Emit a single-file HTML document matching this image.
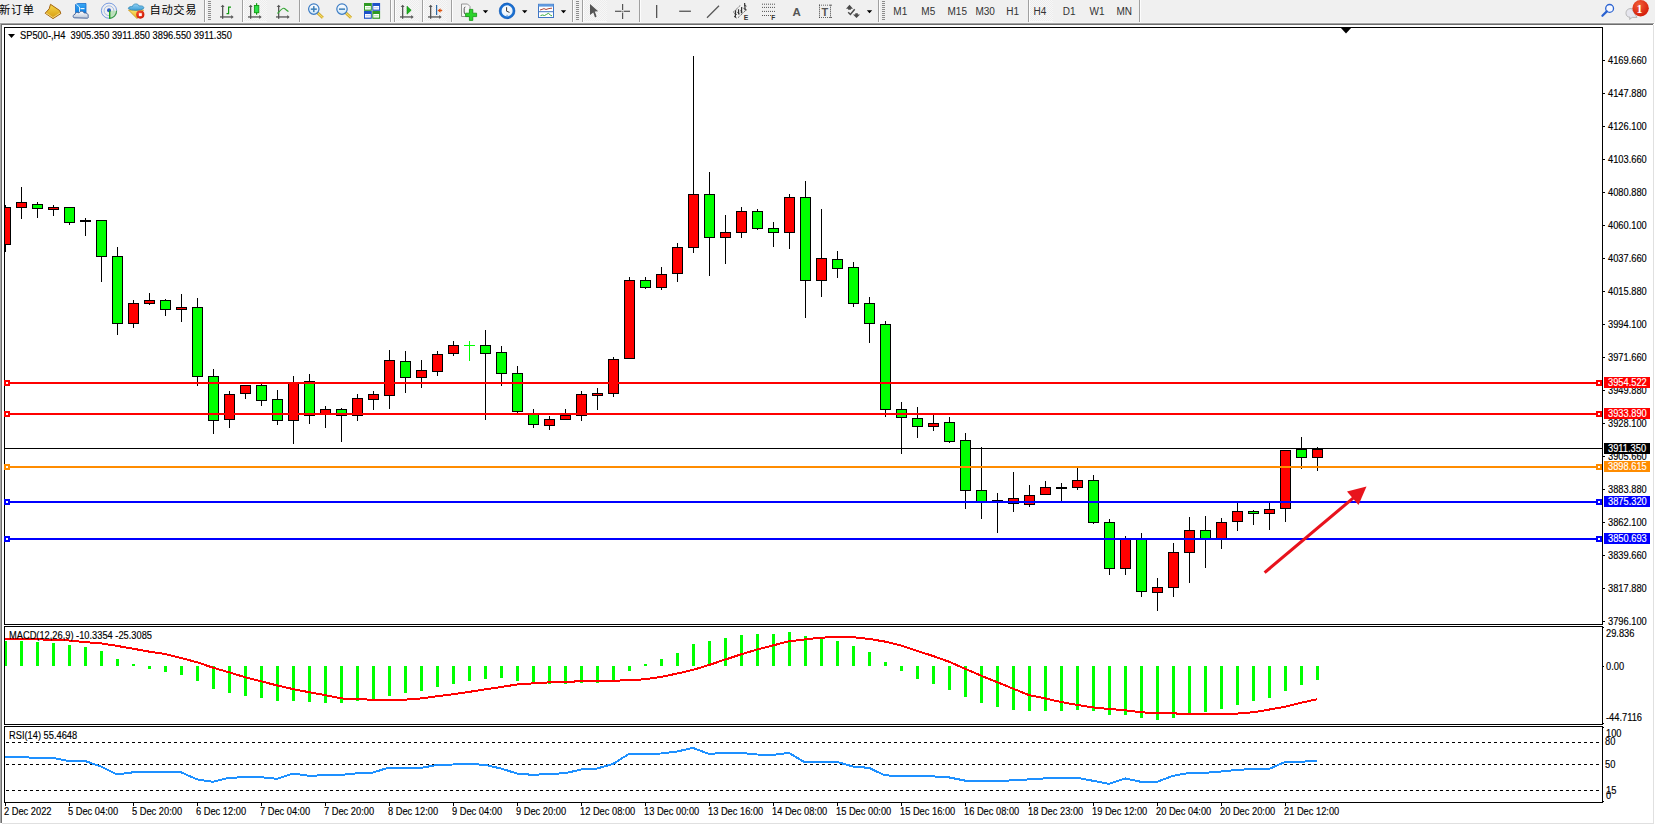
<!DOCTYPE html>
<html><head><meta charset="utf-8"><title>MT4</title>
<style>
html,body{margin:0;padding:0;width:1655px;height:825px;overflow:hidden;background:#fff}
svg{display:block;position:absolute;left:0;top:0}
text{font-family:"Liberation Sans","Noto Sans CJK SC",sans-serif;font-size:9.9px}
</style></head><body>
<svg width="1655" height="825" viewBox="0 0 1655 825" shape-rendering="crispEdges">
<rect x="0" y="0" width="1655" height="825" fill="#fff"/>
<rect x="0" y="0" width="1655" height="22" fill="#f0f0f0"/>
<rect x="0" y="22" width="1655" height="1" fill="#f6f6f6"/>
<rect x="0" y="23" width="1654" height="1" fill="#a3a3a3"/>
<rect x="0" y="24" width="1653" height="1" fill="#6d6d6d"/>
<rect x="0" y="23" width="1" height="800" fill="#a8a8a8"/>
<rect x="1" y="24" width="1" height="799" fill="#6e6e6e"/>
<rect x="1653" y="25" width="1" height="799" fill="#e0e0e0"/>
<rect x="2" y="823" width="1652" height="1" fill="#e0e0e0"/>
<rect x="4" y="27" width="1599" height="1" fill="#000"/>
<rect x="4" y="624" width="1599" height="1" fill="#000"/>
<rect x="4" y="27" width="1" height="598" fill="#000"/>
<rect x="1602" y="27" width="1" height="598" fill="#000"/>
<rect x="4" y="626" width="1599" height="1" fill="#000"/>
<rect x="4" y="724" width="1599" height="1" fill="#000"/>
<rect x="4" y="626" width="1" height="99" fill="#000"/>
<rect x="1602" y="626" width="1" height="99" fill="#000"/>
<rect x="4" y="726" width="1599" height="1" fill="#000"/>
<rect x="4" y="802" width="1599" height="1" fill="#000"/>
<rect x="4" y="726" width="1" height="77" fill="#000"/>
<rect x="1602" y="726" width="1" height="77" fill="#000"/>
<polygon points="1340.5,27.5 1351.5,27.5 1346,33.5" fill="#000" shape-rendering="auto"/>
<polygon points="8,34 15,34 11.5,38" fill="#000" shape-rendering="auto"/>
<rect x="1603" y="60" width="2" height="1" fill="#000"/>
<text x="1710.64" y="63.37" transform="scale(0.94 1.01)" fill="#000" stroke="#000" stroke-width="0.15">4169.660</text>
<rect x="1603" y="93" width="2" height="1" fill="#000"/>
<text x="1710.64" y="96.04" transform="scale(0.94 1.01)" fill="#000" stroke="#000" stroke-width="0.15">4147.880</text>
<rect x="1603" y="126" width="2" height="1" fill="#000"/>
<text x="1710.64" y="128.71" transform="scale(0.94 1.01)" fill="#000" stroke="#000" stroke-width="0.15">4126.100</text>
<rect x="1603" y="159" width="2" height="1" fill="#000"/>
<text x="1710.64" y="161.39" transform="scale(0.94 1.01)" fill="#000" stroke="#000" stroke-width="0.15">4103.660</text>
<rect x="1603" y="192" width="2" height="1" fill="#000"/>
<text x="1710.64" y="194.06" transform="scale(0.94 1.01)" fill="#000" stroke="#000" stroke-width="0.15">4080.880</text>
<rect x="1603" y="225" width="2" height="1" fill="#000"/>
<text x="1710.64" y="226.73" transform="scale(0.94 1.01)" fill="#000" stroke="#000" stroke-width="0.15">4060.100</text>
<rect x="1603" y="258" width="2" height="1" fill="#000"/>
<text x="1710.64" y="259.41" transform="scale(0.94 1.01)" fill="#000" stroke="#000" stroke-width="0.15">4037.660</text>
<rect x="1603" y="291" width="2" height="1" fill="#000"/>
<text x="1710.64" y="292.08" transform="scale(0.94 1.01)" fill="#000" stroke="#000" stroke-width="0.15">4015.880</text>
<rect x="1603" y="324" width="2" height="1" fill="#000"/>
<text x="1710.64" y="324.75" transform="scale(0.94 1.01)" fill="#000" stroke="#000" stroke-width="0.15">3994.100</text>
<rect x="1603" y="357" width="2" height="1" fill="#000"/>
<text x="1710.64" y="357.43" transform="scale(0.94 1.01)" fill="#000" stroke="#000" stroke-width="0.15">3971.660</text>
<rect x="1603" y="390" width="2" height="1" fill="#000"/>
<text x="1710.64" y="390.10" transform="scale(0.94 1.01)" fill="#000" stroke="#000" stroke-width="0.15">3949.880</text>
<rect x="1603" y="423" width="2" height="1" fill="#000"/>
<text x="1710.64" y="422.77" transform="scale(0.94 1.01)" fill="#000" stroke="#000" stroke-width="0.15">3928.100</text>
<rect x="1603" y="456" width="2" height="1" fill="#000"/>
<text x="1710.64" y="455.45" transform="scale(0.94 1.01)" fill="#000" stroke="#000" stroke-width="0.15">3905.660</text>
<rect x="1603" y="489" width="2" height="1" fill="#000"/>
<text x="1710.64" y="488.12" transform="scale(0.94 1.01)" fill="#000" stroke="#000" stroke-width="0.15">3883.880</text>
<rect x="1603" y="522" width="2" height="1" fill="#000"/>
<text x="1710.64" y="520.79" transform="scale(0.94 1.01)" fill="#000" stroke="#000" stroke-width="0.15">3862.100</text>
<rect x="1603" y="555" width="2" height="1" fill="#000"/>
<text x="1710.64" y="553.47" transform="scale(0.94 1.01)" fill="#000" stroke="#000" stroke-width="0.15">3839.660</text>
<rect x="1603" y="588" width="2" height="1" fill="#000"/>
<text x="1710.64" y="586.14" transform="scale(0.94 1.01)" fill="#000" stroke="#000" stroke-width="0.15">3817.880</text>
<rect x="1603" y="621" width="2" height="1" fill="#000"/>
<text x="1710.64" y="618.81" transform="scale(0.94 1.01)" fill="#000" stroke="#000" stroke-width="0.15">3796.100</text>
<rect x="5" y="448" width="1597" height="1" fill="#000"/>
<defs><clipPath id="cm"><rect x="5" y="28" width="1597" height="596"/></clipPath></defs><g clip-path="url(#cm)">
<rect x="5" y="205" width="1" height="47" fill="#000"/>
<rect x="0" y="207" width="11" height="38" fill="#000"/>
<rect x="1" y="208" width="9" height="36" fill="#ff0000"/>
<rect x="21" y="187" width="1" height="32" fill="#000"/>
<rect x="16" y="202" width="11" height="6" fill="#000"/>
<rect x="17" y="203" width="9" height="4" fill="#ff0000"/>
<rect x="37" y="202" width="1" height="16" fill="#000"/>
<rect x="32" y="204" width="11" height="5" fill="#000"/>
<rect x="33" y="205" width="9" height="3" fill="#00ff00"/>
<rect x="53" y="205" width="1" height="11" fill="#000"/>
<rect x="48" y="207" width="11" height="3" fill="#000"/>
<rect x="49" y="208" width="9" height="1" fill="#ff0000"/>
<rect x="69" y="207" width="1" height="18" fill="#000"/>
<rect x="64" y="207" width="11" height="16" fill="#000"/>
<rect x="65" y="208" width="9" height="14" fill="#00ff00"/>
<rect x="85" y="218" width="1" height="18" fill="#000"/>
<rect x="80" y="220" width="11" height="2" fill="#000"/>
<rect x="101" y="220" width="1" height="62" fill="#000"/>
<rect x="96" y="220" width="11" height="37" fill="#000"/>
<rect x="97" y="221" width="9" height="35" fill="#00ff00"/>
<rect x="117" y="247" width="1" height="88" fill="#000"/>
<rect x="112" y="256" width="11" height="68" fill="#000"/>
<rect x="113" y="257" width="9" height="66" fill="#00ff00"/>
<rect x="133" y="300" width="1" height="28" fill="#000"/>
<rect x="128" y="303" width="11" height="21" fill="#000"/>
<rect x="129" y="304" width="9" height="19" fill="#ff0000"/>
<rect x="149" y="293" width="1" height="12" fill="#000"/>
<rect x="144" y="300" width="11" height="4" fill="#000"/>
<rect x="145" y="301" width="9" height="2" fill="#ff0000"/>
<rect x="165" y="299" width="1" height="17" fill="#000"/>
<rect x="160" y="300" width="11" height="10" fill="#000"/>
<rect x="161" y="301" width="9" height="8" fill="#00ff00"/>
<rect x="181" y="294" width="1" height="28" fill="#000"/>
<rect x="176" y="307" width="11" height="3" fill="#000"/>
<rect x="177" y="308" width="9" height="1" fill="#ff0000"/>
<rect x="197" y="298" width="1" height="88" fill="#000"/>
<rect x="192" y="307" width="11" height="70" fill="#000"/>
<rect x="193" y="308" width="9" height="68" fill="#00ff00"/>
<rect x="213" y="369" width="1" height="65" fill="#000"/>
<rect x="208" y="376" width="11" height="45" fill="#000"/>
<rect x="209" y="377" width="9" height="43" fill="#00ff00"/>
<rect x="229" y="391" width="1" height="37" fill="#000"/>
<rect x="224" y="394" width="11" height="26" fill="#000"/>
<rect x="225" y="395" width="9" height="24" fill="#ff0000"/>
<rect x="245" y="385" width="1" height="14" fill="#000"/>
<rect x="240" y="385" width="11" height="9" fill="#000"/>
<rect x="241" y="386" width="9" height="7" fill="#ff0000"/>
<rect x="261" y="384" width="1" height="22" fill="#000"/>
<rect x="256" y="385" width="11" height="16" fill="#000"/>
<rect x="257" y="386" width="9" height="14" fill="#00ff00"/>
<rect x="277" y="390" width="1" height="35" fill="#000"/>
<rect x="272" y="399" width="11" height="22" fill="#000"/>
<rect x="273" y="400" width="9" height="20" fill="#00ff00"/>
<rect x="293" y="376" width="1" height="68" fill="#000"/>
<rect x="288" y="382" width="11" height="39" fill="#000"/>
<rect x="289" y="383" width="9" height="37" fill="#ff0000"/>
<rect x="309" y="374" width="1" height="50" fill="#000"/>
<rect x="304" y="381" width="11" height="35" fill="#000"/>
<rect x="305" y="382" width="9" height="33" fill="#00ff00"/>
<rect x="325" y="406" width="1" height="22" fill="#000"/>
<rect x="320" y="409" width="11" height="6" fill="#000"/>
<rect x="321" y="410" width="9" height="4" fill="#ff0000"/>
<rect x="341" y="408" width="1" height="34" fill="#000"/>
<rect x="336" y="409" width="11" height="7" fill="#000"/>
<rect x="337" y="410" width="9" height="5" fill="#00ff00"/>
<rect x="357" y="394" width="1" height="27" fill="#000"/>
<rect x="352" y="398" width="11" height="18" fill="#000"/>
<rect x="353" y="399" width="9" height="16" fill="#ff0000"/>
<rect x="373" y="391" width="1" height="19" fill="#000"/>
<rect x="368" y="394" width="11" height="6" fill="#000"/>
<rect x="369" y="395" width="9" height="4" fill="#ff0000"/>
<rect x="389" y="350" width="1" height="59" fill="#000"/>
<rect x="384" y="360" width="11" height="36" fill="#000"/>
<rect x="385" y="361" width="9" height="34" fill="#ff0000"/>
<rect x="405" y="351" width="1" height="42" fill="#000"/>
<rect x="400" y="361" width="11" height="17" fill="#000"/>
<rect x="401" y="362" width="9" height="15" fill="#00ff00"/>
<rect x="421" y="360" width="1" height="28" fill="#000"/>
<rect x="416" y="370" width="11" height="8" fill="#000"/>
<rect x="417" y="371" width="9" height="6" fill="#ff0000"/>
<rect x="437" y="351" width="1" height="25" fill="#000"/>
<rect x="432" y="354" width="11" height="18" fill="#000"/>
<rect x="433" y="355" width="9" height="16" fill="#ff0000"/>
<rect x="453" y="341" width="1" height="15" fill="#000"/>
<rect x="448" y="345" width="11" height="9" fill="#000"/>
<rect x="449" y="346" width="9" height="7" fill="#ff0000"/>
<rect x="469" y="341" width="1" height="20" fill="#00ff00"/>
<rect x="464" y="345" width="11" height="1" fill="#00ff00"/>
<rect x="485" y="330" width="1" height="90" fill="#000"/>
<rect x="480" y="345" width="11" height="9" fill="#000"/>
<rect x="481" y="346" width="9" height="7" fill="#00ff00"/>
<rect x="501" y="346" width="1" height="40" fill="#000"/>
<rect x="496" y="352" width="11" height="22" fill="#000"/>
<rect x="497" y="353" width="9" height="20" fill="#00ff00"/>
<rect x="517" y="366" width="1" height="47" fill="#000"/>
<rect x="512" y="373" width="11" height="39" fill="#000"/>
<rect x="513" y="374" width="9" height="37" fill="#00ff00"/>
<rect x="533" y="409" width="1" height="19" fill="#000"/>
<rect x="528" y="414" width="11" height="11" fill="#000"/>
<rect x="529" y="415" width="9" height="9" fill="#00ff00"/>
<rect x="549" y="416" width="1" height="14" fill="#000"/>
<rect x="544" y="419" width="11" height="7" fill="#000"/>
<rect x="545" y="420" width="9" height="5" fill="#ff0000"/>
<rect x="565" y="409" width="1" height="11" fill="#000"/>
<rect x="560" y="415" width="11" height="5" fill="#000"/>
<rect x="561" y="416" width="9" height="3" fill="#ff0000"/>
<rect x="581" y="391" width="1" height="30" fill="#000"/>
<rect x="576" y="394" width="11" height="22" fill="#000"/>
<rect x="577" y="395" width="9" height="20" fill="#ff0000"/>
<rect x="597" y="388" width="1" height="22" fill="#000"/>
<rect x="592" y="393" width="11" height="3" fill="#000"/>
<rect x="593" y="394" width="9" height="1" fill="#ff0000"/>
<rect x="613" y="357" width="1" height="40" fill="#000"/>
<rect x="608" y="359" width="11" height="35" fill="#000"/>
<rect x="609" y="360" width="9" height="33" fill="#ff0000"/>
<rect x="629" y="277" width="1" height="82" fill="#000"/>
<rect x="624" y="280" width="11" height="79" fill="#000"/>
<rect x="625" y="281" width="9" height="77" fill="#ff0000"/>
<rect x="645" y="277" width="1" height="12" fill="#000"/>
<rect x="640" y="280" width="11" height="8" fill="#000"/>
<rect x="641" y="281" width="9" height="6" fill="#00ff00"/>
<rect x="661" y="267" width="1" height="23" fill="#000"/>
<rect x="656" y="274" width="11" height="14" fill="#000"/>
<rect x="657" y="275" width="9" height="12" fill="#ff0000"/>
<rect x="677" y="243" width="1" height="39" fill="#000"/>
<rect x="672" y="247" width="11" height="27" fill="#000"/>
<rect x="673" y="248" width="9" height="25" fill="#ff0000"/>
<rect x="693" y="56" width="1" height="197" fill="#000"/>
<rect x="688" y="194" width="11" height="54" fill="#000"/>
<rect x="689" y="195" width="9" height="52" fill="#ff0000"/>
<rect x="709" y="172" width="1" height="104" fill="#000"/>
<rect x="704" y="194" width="11" height="44" fill="#000"/>
<rect x="705" y="195" width="9" height="42" fill="#00ff00"/>
<rect x="725" y="215" width="1" height="49" fill="#000"/>
<rect x="720" y="232" width="11" height="6" fill="#000"/>
<rect x="721" y="233" width="9" height="4" fill="#ff0000"/>
<rect x="741" y="207" width="1" height="31" fill="#000"/>
<rect x="736" y="211" width="11" height="22" fill="#000"/>
<rect x="737" y="212" width="9" height="20" fill="#ff0000"/>
<rect x="757" y="209" width="1" height="21" fill="#000"/>
<rect x="752" y="211" width="11" height="18" fill="#000"/>
<rect x="753" y="212" width="9" height="16" fill="#00ff00"/>
<rect x="773" y="222" width="1" height="25" fill="#000"/>
<rect x="768" y="228" width="11" height="5" fill="#000"/>
<rect x="769" y="229" width="9" height="3" fill="#00ff00"/>
<rect x="789" y="194" width="1" height="55" fill="#000"/>
<rect x="784" y="197" width="11" height="36" fill="#000"/>
<rect x="785" y="198" width="9" height="34" fill="#ff0000"/>
<rect x="805" y="181" width="1" height="137" fill="#000"/>
<rect x="800" y="197" width="11" height="84" fill="#000"/>
<rect x="801" y="198" width="9" height="82" fill="#00ff00"/>
<rect x="821" y="209" width="1" height="88" fill="#000"/>
<rect x="816" y="258" width="11" height="23" fill="#000"/>
<rect x="817" y="259" width="9" height="21" fill="#ff0000"/>
<rect x="837" y="251" width="1" height="27" fill="#000"/>
<rect x="832" y="259" width="11" height="10" fill="#000"/>
<rect x="833" y="260" width="9" height="8" fill="#00ff00"/>
<rect x="853" y="262" width="1" height="45" fill="#000"/>
<rect x="848" y="267" width="11" height="37" fill="#000"/>
<rect x="849" y="268" width="9" height="35" fill="#00ff00"/>
<rect x="869" y="297" width="1" height="46" fill="#000"/>
<rect x="864" y="303" width="11" height="21" fill="#000"/>
<rect x="865" y="304" width="9" height="19" fill="#00ff00"/>
<rect x="885" y="321" width="1" height="96" fill="#000"/>
<rect x="880" y="324" width="11" height="86" fill="#000"/>
<rect x="881" y="325" width="9" height="84" fill="#00ff00"/>
<rect x="901" y="402" width="1" height="52" fill="#000"/>
<rect x="896" y="409" width="11" height="9" fill="#000"/>
<rect x="897" y="410" width="9" height="7" fill="#00ff00"/>
<rect x="917" y="407" width="1" height="31" fill="#000"/>
<rect x="912" y="418" width="11" height="9" fill="#000"/>
<rect x="913" y="419" width="9" height="7" fill="#00ff00"/>
<rect x="933" y="415" width="1" height="16" fill="#000"/>
<rect x="928" y="423" width="11" height="4" fill="#000"/>
<rect x="929" y="424" width="9" height="2" fill="#ff0000"/>
<rect x="949" y="417" width="1" height="26" fill="#000"/>
<rect x="944" y="422" width="11" height="20" fill="#000"/>
<rect x="945" y="423" width="9" height="18" fill="#00ff00"/>
<rect x="965" y="433" width="1" height="76" fill="#000"/>
<rect x="960" y="440" width="11" height="51" fill="#000"/>
<rect x="961" y="441" width="9" height="49" fill="#00ff00"/>
<rect x="981" y="447" width="1" height="72" fill="#000"/>
<rect x="976" y="490" width="11" height="12" fill="#000"/>
<rect x="977" y="491" width="9" height="10" fill="#00ff00"/>
<rect x="997" y="493" width="1" height="40" fill="#000"/>
<rect x="992" y="500" width="11" height="2" fill="#000"/>
<rect x="1013" y="472" width="1" height="40" fill="#000"/>
<rect x="1008" y="498" width="11" height="6" fill="#000"/>
<rect x="1009" y="499" width="9" height="4" fill="#ff0000"/>
<rect x="1029" y="485" width="1" height="22" fill="#000"/>
<rect x="1024" y="495" width="11" height="10" fill="#000"/>
<rect x="1025" y="496" width="9" height="8" fill="#ff0000"/>
<rect x="1045" y="481" width="1" height="14" fill="#000"/>
<rect x="1040" y="487" width="11" height="8" fill="#000"/>
<rect x="1041" y="488" width="9" height="6" fill="#ff0000"/>
<rect x="1061" y="483" width="1" height="18" fill="#000"/>
<rect x="1056" y="487" width="11" height="2" fill="#000"/>
<rect x="1077" y="468" width="1" height="22" fill="#000"/>
<rect x="1072" y="480" width="11" height="8" fill="#000"/>
<rect x="1073" y="481" width="9" height="6" fill="#ff0000"/>
<rect x="1093" y="475" width="1" height="49" fill="#000"/>
<rect x="1088" y="480" width="11" height="43" fill="#000"/>
<rect x="1089" y="481" width="9" height="41" fill="#00ff00"/>
<rect x="1109" y="519" width="1" height="56" fill="#000"/>
<rect x="1104" y="522" width="11" height="47" fill="#000"/>
<rect x="1105" y="523" width="9" height="45" fill="#00ff00"/>
<rect x="1125" y="536" width="1" height="39" fill="#000"/>
<rect x="1120" y="539" width="11" height="30" fill="#000"/>
<rect x="1121" y="540" width="9" height="28" fill="#ff0000"/>
<rect x="1141" y="533" width="1" height="64" fill="#000"/>
<rect x="1136" y="539" width="11" height="53" fill="#000"/>
<rect x="1137" y="540" width="9" height="51" fill="#00ff00"/>
<rect x="1157" y="578" width="1" height="33" fill="#000"/>
<rect x="1152" y="587" width="11" height="6" fill="#000"/>
<rect x="1153" y="588" width="9" height="4" fill="#ff0000"/>
<rect x="1173" y="543" width="1" height="54" fill="#000"/>
<rect x="1168" y="552" width="11" height="36" fill="#000"/>
<rect x="1169" y="553" width="9" height="34" fill="#ff0000"/>
<rect x="1189" y="517" width="1" height="66" fill="#000"/>
<rect x="1184" y="530" width="11" height="23" fill="#000"/>
<rect x="1185" y="531" width="9" height="21" fill="#ff0000"/>
<rect x="1205" y="516" width="1" height="52" fill="#000"/>
<rect x="1200" y="530" width="11" height="9" fill="#000"/>
<rect x="1201" y="531" width="9" height="7" fill="#00ff00"/>
<rect x="1221" y="518" width="1" height="31" fill="#000"/>
<rect x="1216" y="522" width="11" height="17" fill="#000"/>
<rect x="1217" y="523" width="9" height="15" fill="#ff0000"/>
<rect x="1237" y="503" width="1" height="28" fill="#000"/>
<rect x="1232" y="511" width="11" height="11" fill="#000"/>
<rect x="1233" y="512" width="9" height="9" fill="#ff0000"/>
<rect x="1253" y="510" width="1" height="15" fill="#000"/>
<rect x="1248" y="511" width="11" height="3" fill="#000"/>
<rect x="1249" y="512" width="9" height="1" fill="#00ff00"/>
<rect x="1269" y="503" width="1" height="27" fill="#000"/>
<rect x="1264" y="509" width="11" height="5" fill="#000"/>
<rect x="1265" y="510" width="9" height="3" fill="#ff0000"/>
<rect x="1285" y="450" width="1" height="72" fill="#000"/>
<rect x="1280" y="450" width="11" height="59" fill="#000"/>
<rect x="1281" y="451" width="9" height="57" fill="#ff0000"/>
<rect x="1301" y="437" width="1" height="32" fill="#000"/>
<rect x="1296" y="449" width="11" height="9" fill="#000"/>
<rect x="1297" y="450" width="9" height="7" fill="#00ff00"/>
<rect x="1317" y="447" width="1" height="24" fill="#000"/>
<rect x="1312" y="449" width="11" height="9" fill="#000"/>
<rect x="1313" y="450" width="9" height="7" fill="#ff0000"/>
</g>
<rect x="5" y="382" width="1597" height="2" fill="#ff0000"/>
<rect x="4" y="380" width="6" height="6" fill="#ff0000"/>
<rect x="6" y="382" width="2" height="2" fill="#fff"/>
<rect x="1596" y="380" width="6" height="6" fill="#ff0000"/>
<rect x="1598" y="382" width="2" height="2" fill="#fff"/>
<rect x="1604" y="377" width="46" height="11" fill="#ff0000"/>
<text x="1710.64" y="382.18" transform="scale(0.94 1.01)" fill="#fff" stroke="#fff" stroke-width="0.15">3954.522</text>
<rect x="5" y="413" width="1597" height="2" fill="#ff0000"/>
<rect x="4" y="411" width="6" height="6" fill="#ff0000"/>
<rect x="6" y="413" width="2" height="2" fill="#fff"/>
<rect x="1596" y="411" width="6" height="6" fill="#ff0000"/>
<rect x="1598" y="413" width="2" height="2" fill="#fff"/>
<rect x="1604" y="408" width="46" height="11" fill="#ff0000"/>
<text x="1710.64" y="412.87" transform="scale(0.94 1.01)" fill="#fff" stroke="#fff" stroke-width="0.15">3933.890</text>
<rect x="5" y="466" width="1597" height="2" fill="#ff8c00"/>
<rect x="4" y="464" width="6" height="6" fill="#ff8c00"/>
<rect x="6" y="466" width="2" height="2" fill="#fff"/>
<rect x="1596" y="464" width="6" height="6" fill="#ff8c00"/>
<rect x="1598" y="466" width="2" height="2" fill="#fff"/>
<rect x="1604" y="461" width="46" height="11" fill="#ff8c00"/>
<text x="1710.64" y="465.35" transform="scale(0.94 1.01)" fill="#fff" stroke="#fff" stroke-width="0.15">3898.615</text>
<rect x="5" y="501" width="1597" height="2" fill="#0000ff"/>
<rect x="4" y="499" width="6" height="6" fill="#0000ff"/>
<rect x="6" y="501" width="2" height="2" fill="#fff"/>
<rect x="1596" y="499" width="6" height="6" fill="#0000ff"/>
<rect x="1598" y="501" width="2" height="2" fill="#fff"/>
<rect x="1604" y="496" width="46" height="11" fill="#0000ff"/>
<text x="1710.64" y="500.00" transform="scale(0.94 1.01)" fill="#fff" stroke="#fff" stroke-width="0.15">3875.320</text>
<rect x="5" y="538" width="1597" height="2" fill="#0000ff"/>
<rect x="4" y="536" width="6" height="6" fill="#0000ff"/>
<rect x="6" y="538" width="2" height="2" fill="#fff"/>
<rect x="1596" y="536" width="6" height="6" fill="#0000ff"/>
<rect x="1598" y="538" width="2" height="2" fill="#fff"/>
<rect x="1604" y="533" width="46" height="11" fill="#0000ff"/>
<text x="1710.64" y="536.63" transform="scale(0.94 1.01)" fill="#fff" stroke="#fff" stroke-width="0.15">3850.693</text>
<rect x="1604" y="443" width="46" height="11" fill="#000"/>
<text x="1710.64" y="447.52" transform="scale(0.94 1.01)" fill="#fff" stroke="#fff" stroke-width="0.15">3911.350</text>
<g shape-rendering="auto"><line x1="1264.6" y1="572.6" x2="1353.7" y2="497.6" stroke="#e8121c" stroke-width="3.1"/><polygon points="1366.5,486.5 1347,491.5 1358.5,505" fill="#e8141c"/></g>
<text x="21.28" y="38.61" transform="scale(0.94 1.01)" fill="#000" stroke="#000" stroke-width="0.15">SP500-,H4&#160;&#160;3905.350 3911.850 3896.550 3911.350</text>
<rect x="5" y="641" width="2" height="25" fill="#00ff00"/>
<rect x="20" y="641" width="3" height="25" fill="#00ff00"/>
<rect x="36" y="642" width="3" height="24" fill="#00ff00"/>
<rect x="52" y="643" width="3" height="23" fill="#00ff00"/>
<rect x="68" y="645" width="3" height="21" fill="#00ff00"/>
<rect x="84" y="647" width="3" height="19" fill="#00ff00"/>
<rect x="100" y="651" width="3" height="15" fill="#00ff00"/>
<rect x="116" y="659" width="3" height="7" fill="#00ff00"/>
<rect x="132" y="664" width="3" height="2" fill="#00ff00"/>
<rect x="148" y="666" width="3" height="3" fill="#00ff00"/>
<rect x="164" y="666" width="3" height="6" fill="#00ff00"/>
<rect x="180" y="666" width="3" height="9" fill="#00ff00"/>
<rect x="196" y="666" width="3" height="15" fill="#00ff00"/>
<rect x="212" y="666" width="3" height="23" fill="#00ff00"/>
<rect x="228" y="666" width="3" height="27" fill="#00ff00"/>
<rect x="244" y="666" width="3" height="30" fill="#00ff00"/>
<rect x="260" y="666" width="3" height="32" fill="#00ff00"/>
<rect x="276" y="666" width="3" height="35" fill="#00ff00"/>
<rect x="292" y="666" width="3" height="35" fill="#00ff00"/>
<rect x="308" y="666" width="3" height="36" fill="#00ff00"/>
<rect x="324" y="666" width="3" height="37" fill="#00ff00"/>
<rect x="340" y="666" width="3" height="37" fill="#00ff00"/>
<rect x="356" y="666" width="3" height="35" fill="#00ff00"/>
<rect x="372" y="666" width="3" height="33" fill="#00ff00"/>
<rect x="388" y="666" width="3" height="30" fill="#00ff00"/>
<rect x="404" y="666" width="3" height="27" fill="#00ff00"/>
<rect x="420" y="666" width="3" height="25" fill="#00ff00"/>
<rect x="436" y="666" width="3" height="21" fill="#00ff00"/>
<rect x="452" y="666" width="3" height="18" fill="#00ff00"/>
<rect x="468" y="666" width="3" height="15" fill="#00ff00"/>
<rect x="484" y="666" width="3" height="13" fill="#00ff00"/>
<rect x="500" y="666" width="3" height="12" fill="#00ff00"/>
<rect x="516" y="666" width="3" height="15" fill="#00ff00"/>
<rect x="532" y="666" width="3" height="17" fill="#00ff00"/>
<rect x="548" y="666" width="3" height="18" fill="#00ff00"/>
<rect x="564" y="666" width="3" height="18" fill="#00ff00"/>
<rect x="580" y="666" width="3" height="17" fill="#00ff00"/>
<rect x="596" y="666" width="3" height="17" fill="#00ff00"/>
<rect x="612" y="666" width="3" height="14" fill="#00ff00"/>
<rect x="628" y="666" width="3" height="5" fill="#00ff00"/>
<rect x="644" y="664" width="3" height="2" fill="#00ff00"/>
<rect x="660" y="659" width="3" height="7" fill="#00ff00"/>
<rect x="676" y="653" width="3" height="13" fill="#00ff00"/>
<rect x="692" y="644" width="3" height="22" fill="#00ff00"/>
<rect x="708" y="641" width="3" height="25" fill="#00ff00"/>
<rect x="724" y="638" width="3" height="28" fill="#00ff00"/>
<rect x="740" y="635" width="3" height="31" fill="#00ff00"/>
<rect x="756" y="634" width="3" height="32" fill="#00ff00"/>
<rect x="772" y="634" width="3" height="32" fill="#00ff00"/>
<rect x="788" y="632" width="3" height="34" fill="#00ff00"/>
<rect x="804" y="636" width="3" height="30" fill="#00ff00"/>
<rect x="820" y="639" width="3" height="27" fill="#00ff00"/>
<rect x="836" y="641" width="3" height="25" fill="#00ff00"/>
<rect x="852" y="646" width="3" height="20" fill="#00ff00"/>
<rect x="868" y="652" width="3" height="14" fill="#00ff00"/>
<rect x="884" y="662" width="3" height="4" fill="#00ff00"/>
<rect x="900" y="666" width="3" height="5" fill="#00ff00"/>
<rect x="916" y="666" width="3" height="13" fill="#00ff00"/>
<rect x="932" y="666" width="3" height="18" fill="#00ff00"/>
<rect x="948" y="666" width="3" height="24" fill="#00ff00"/>
<rect x="964" y="666" width="3" height="31" fill="#00ff00"/>
<rect x="980" y="666" width="3" height="37" fill="#00ff00"/>
<rect x="996" y="666" width="3" height="41" fill="#00ff00"/>
<rect x="1012" y="666" width="3" height="44" fill="#00ff00"/>
<rect x="1028" y="666" width="3" height="45" fill="#00ff00"/>
<rect x="1044" y="666" width="3" height="45" fill="#00ff00"/>
<rect x="1060" y="666" width="3" height="45" fill="#00ff00"/>
<rect x="1076" y="666" width="3" height="44" fill="#00ff00"/>
<rect x="1092" y="666" width="3" height="45" fill="#00ff00"/>
<rect x="1108" y="666" width="3" height="49" fill="#00ff00"/>
<rect x="1124" y="666" width="3" height="49" fill="#00ff00"/>
<rect x="1140" y="666" width="3" height="52" fill="#00ff00"/>
<rect x="1156" y="666" width="3" height="54" fill="#00ff00"/>
<rect x="1172" y="666" width="3" height="52" fill="#00ff00"/>
<rect x="1188" y="666" width="3" height="47" fill="#00ff00"/>
<rect x="1204" y="666" width="3" height="46" fill="#00ff00"/>
<rect x="1220" y="666" width="3" height="43" fill="#00ff00"/>
<rect x="1236" y="666" width="3" height="39" fill="#00ff00"/>
<rect x="1252" y="666" width="3" height="35" fill="#00ff00"/>
<rect x="1268" y="666" width="3" height="32" fill="#00ff00"/>
<rect x="1284" y="666" width="3" height="25" fill="#00ff00"/>
<rect x="1300" y="666" width="3" height="19" fill="#00ff00"/>
<rect x="1316" y="666" width="3" height="14" fill="#00ff00"/>
<polyline points="5,639 21,639.2 37,639.4 53,639.7 69,640.5 85,642.1 101,643.3 117,645.9 133,648.7 149,651.6 165,654 181,658 197,662.2 213,667.7 229,672.3 245,677.2 261,681.3 277,685.4 293,689.1 309,692.2 325,695.1 341,698.4 357,699.2 373,699.7 389,699.7 405,699.7 421,698.4 437,696.3 453,694.3 469,691.9 485,689.4 501,687 517,684.5 533,683.4 549,682.4 565,681.8 581,681.3 597,681 613,680.8 629,680.1 645,679.3 661,676.9 677,673.6 693,669.9 709,665 725,659.6 741,654.4 757,649.5 773,645.4 789,641.3 805,639.4 821,637.7 837,636.9 853,637.2 869,638.9 885,641.6 901,645.4 917,650.8 933,656 949,661.7 965,668.7 981,675.6 997,682.1 1013,688.6 1029,695.1 1045,698.4 1061,702 1077,704.9 1093,707.4 1109,709 1125,710.2 1141,712.3 1157,713.1 1173,713.4 1189,713.9 1205,713.9 1221,713.9 1237,713.6 1253,712.3 1269,709.6 1285,706.8 1301,702.8 1317,699.2" fill="none" stroke="#ff0000" stroke-width="2" />
<text x="9.57" y="632.67" transform="scale(0.94 1.01)" fill="#000" stroke="#000" stroke-width="0.15">MACD(12,26,9) -10.3354 -25.3085</text>
<rect x="1603" y="627" width="1" height="1" fill="#000"/>
<rect x="1603" y="666" width="1" height="1" fill="#000"/>
<rect x="1603" y="723" width="1" height="1" fill="#000"/>
<text x="1708.51" y="630.69" transform="scale(0.94 1.01)" fill="#000" stroke="#000" stroke-width="0.15">29.836</text>
<text x="1708.51" y="663.37" transform="scale(0.94 1.01)" fill="#000" stroke="#000" stroke-width="0.15">0.00</text>
<text x="1708.51" y="713.86" transform="scale(0.94 1.01)" fill="#000" stroke="#000" stroke-width="0.15">-44.7116</text>
<line x1="6" y1="742.5" x2="1600" y2="742.5" stroke="#000" stroke-width="1" stroke-dasharray="3,3"/>
<line x1="6" y1="764.5" x2="1600" y2="764.5" stroke="#000" stroke-width="1" stroke-dasharray="3,3"/>
<line x1="6" y1="790.5" x2="1600" y2="790.5" stroke="#000" stroke-width="1" stroke-dasharray="3,3"/>
<polyline points="5,757 21,757 37,758 53,758 69,761 85,761 101,766.5 117,774.5 133,772.3 149,772.3 165,772.3 181,772.3 197,779.4 213,781.8 229,777.8 245,777.2 261,777.2 277,778.8 293,773.5 309,775.8 325,775.2 341,774.9 357,773.3 373,772.5 389,767.5 405,768.5 421,767.9 437,764.9 453,764.5 469,763.9 485,764.9 501,768.5 517,773.5 533,774.9 549,773.9 565,773.3 581,769.5 597,768.5 613,763.9 629,753.9 645,753.9 661,753.5 677,751.5 693,747.9 709,753.9 725,752.9 741,752.9 757,754.5 773,754.9 789,752.9 805,762.5 821,761.9 837,761.9 853,766.5 869,767.9 885,775.4 901,775.8 917,775.8 933,776.4 949,777.4 965,780.6 981,780.8 997,780.8 1013,780.4 1029,779.4 1045,778.4 1061,777.8 1077,777.8 1093,780.8 1109,783.8 1125,778.4 1141,781.8 1157,781.8 1173,775.8 1189,772.9 1205,772.9 1221,771.5 1237,769.9 1253,769 1269,769 1285,762 1301,761.7 1317,761" fill="none" stroke="#1e90ff" stroke-width="2" />
<text x="9.57" y="731.68" transform="scale(0.94 1.01)" fill="#000" stroke="#000" stroke-width="0.15">RSI(14) 55.4648</text>
<rect x="1603" y="727" width="1" height="1" fill="#000"/>
<rect x="1603" y="801" width="1" height="1" fill="#000"/>
<text x="1708.51" y="729.70" transform="scale(0.94 1.01)" fill="#000" stroke="#000" stroke-width="0.15">100</text>
<text x="1707.45" y="738.12" transform="scale(0.94 1.01)" fill="#000" stroke="#000" stroke-width="0.15">80</text>
<text x="1707.45" y="760.20" transform="scale(0.94 1.01)" fill="#000" stroke="#000" stroke-width="0.15">50</text>
<text x="1708.51" y="786.14" transform="scale(0.94 1.01)" fill="#000" stroke="#000" stroke-width="0.15">15</text>
<text x="1708.51" y="791.09" transform="scale(0.94 1.01)" fill="#000" stroke="#000" stroke-width="0.15">0</text>
<rect x="5" y="803" width="1" height="3" fill="#000"/>
<text x="4.26" y="806.93" transform="scale(0.94 1.01)" fill="#000" stroke="#000" stroke-width="0.15">2 Dec 2022</text>
<rect x="69" y="803" width="1" height="3" fill="#000"/>
<text x="72.34" y="806.93" transform="scale(0.94 1.01)" fill="#000" stroke="#000" stroke-width="0.15">5 Dec 04:00</text>
<rect x="133" y="803" width="1" height="3" fill="#000"/>
<text x="140.43" y="806.93" transform="scale(0.94 1.01)" fill="#000" stroke="#000" stroke-width="0.15">5 Dec 20:00</text>
<rect x="197" y="803" width="1" height="3" fill="#000"/>
<text x="208.51" y="806.93" transform="scale(0.94 1.01)" fill="#000" stroke="#000" stroke-width="0.15">6 Dec 12:00</text>
<rect x="261" y="803" width="1" height="3" fill="#000"/>
<text x="276.60" y="806.93" transform="scale(0.94 1.01)" fill="#000" stroke="#000" stroke-width="0.15">7 Dec 04:00</text>
<rect x="325" y="803" width="1" height="3" fill="#000"/>
<text x="344.68" y="806.93" transform="scale(0.94 1.01)" fill="#000" stroke="#000" stroke-width="0.15">7 Dec 20:00</text>
<rect x="389" y="803" width="1" height="3" fill="#000"/>
<text x="412.77" y="806.93" transform="scale(0.94 1.01)" fill="#000" stroke="#000" stroke-width="0.15">8 Dec 12:00</text>
<rect x="453" y="803" width="1" height="3" fill="#000"/>
<text x="480.85" y="806.93" transform="scale(0.94 1.01)" fill="#000" stroke="#000" stroke-width="0.15">9 Dec 04:00</text>
<rect x="517" y="803" width="1" height="3" fill="#000"/>
<text x="548.94" y="806.93" transform="scale(0.94 1.01)" fill="#000" stroke="#000" stroke-width="0.15">9 Dec 20:00</text>
<rect x="581" y="803" width="1" height="3" fill="#000"/>
<text x="617.02" y="806.93" transform="scale(0.94 1.01)" fill="#000" stroke="#000" stroke-width="0.15">12 Dec 08:00</text>
<rect x="645" y="803" width="1" height="3" fill="#000"/>
<text x="685.11" y="806.93" transform="scale(0.94 1.01)" fill="#000" stroke="#000" stroke-width="0.15">13 Dec 00:00</text>
<rect x="709" y="803" width="1" height="3" fill="#000"/>
<text x="753.19" y="806.93" transform="scale(0.94 1.01)" fill="#000" stroke="#000" stroke-width="0.15">13 Dec 16:00</text>
<rect x="773" y="803" width="1" height="3" fill="#000"/>
<text x="821.28" y="806.93" transform="scale(0.94 1.01)" fill="#000" stroke="#000" stroke-width="0.15">14 Dec 08:00</text>
<rect x="837" y="803" width="1" height="3" fill="#000"/>
<text x="889.36" y="806.93" transform="scale(0.94 1.01)" fill="#000" stroke="#000" stroke-width="0.15">15 Dec 00:00</text>
<rect x="901" y="803" width="1" height="3" fill="#000"/>
<text x="957.45" y="806.93" transform="scale(0.94 1.01)" fill="#000" stroke="#000" stroke-width="0.15">15 Dec 16:00</text>
<rect x="965" y="803" width="1" height="3" fill="#000"/>
<text x="1025.53" y="806.93" transform="scale(0.94 1.01)" fill="#000" stroke="#000" stroke-width="0.15">16 Dec 08:00</text>
<rect x="1029" y="803" width="1" height="3" fill="#000"/>
<text x="1093.62" y="806.93" transform="scale(0.94 1.01)" fill="#000" stroke="#000" stroke-width="0.15">18 Dec 23:00</text>
<rect x="1093" y="803" width="1" height="3" fill="#000"/>
<text x="1161.70" y="806.93" transform="scale(0.94 1.01)" fill="#000" stroke="#000" stroke-width="0.15">19 Dec 12:00</text>
<rect x="1157" y="803" width="1" height="3" fill="#000"/>
<text x="1229.79" y="806.93" transform="scale(0.94 1.01)" fill="#000" stroke="#000" stroke-width="0.15">20 Dec 04:00</text>
<rect x="1221" y="803" width="1" height="3" fill="#000"/>
<text x="1297.87" y="806.93" transform="scale(0.94 1.01)" fill="#000" stroke="#000" stroke-width="0.15">20 Dec 20:00</text>
<rect x="1285" y="803" width="1" height="3" fill="#000"/>
<text x="1365.96" y="806.93" transform="scale(0.94 1.01)" fill="#000" stroke="#000" stroke-width="0.15">21 Dec 12:00</text>
<g shape-rendering="auto">
<defs><linearGradient id="gold" x1="0" y1="0" x2="0" y2="1"><stop offset="0" stop-color="#f7d84a"/><stop offset="1" stop-color="#d59a12"/></linearGradient><linearGradient id="blu" x1="0" y1="0" x2="0" y2="1"><stop offset="0" stop-color="#3aa8f5"/><stop offset="1" stop-color="#0a7de0"/></linearGradient><linearGradient id="cld" x1="0" y1="0" x2="0" y2="1"><stop offset="0" stop-color="#ffffff"/><stop offset="1" stop-color="#b9c5d8"/></linearGradient><linearGradient id="hat" x1="0" y1="0" x2="0" y2="1"><stop offset="0" stop-color="#8fd0f5"/><stop offset="1" stop-color="#3e9fd6"/></linearGradient><linearGradient id="fun" x1="0" y1="0" x2="0" y2="1"><stop offset="0" stop-color="#f8e06a"/><stop offset="1" stop-color="#e8b820"/></linearGradient><radialGradient id="stop" cx="0.4" cy="0.35" r="0.7"><stop offset="0" stop-color="#ff5a3a"/><stop offset="1" stop-color="#c81400"/></radialGradient><radialGradient id="clk" cx="0.45" cy="0.4" r="0.6"><stop offset="0" stop-color="#ffffff"/><stop offset="0.75" stop-color="#e8f2fb"/><stop offset="1" stop-color="#9cc3e8"/></radialGradient><radialGradient id="badge" cx="0.4" cy="0.3" r="0.7"><stop offset="0" stop-color="#f2603a"/><stop offset="1" stop-color="#d41c08"/></radialGradient><linearGradient id="lens" x1="0" y1="0" x2="0" y2="1"><stop offset="0" stop-color="#ffffff"/><stop offset="1" stop-color="#cfe6f8"/></linearGradient><pattern id="chk" width="2" height="2" patternUnits="userSpaceOnUse"><rect width="2" height="2" fill="#f7f7f7"/><rect width="1" height="1" fill="#ececec"/><rect x="1" y="1" width="1" height="1" fill="#ececec"/></pattern></defs>
</g>
<rect x="243" y="0" width="24" height="21" fill="url(#chk)"/>
<rect x="243" y="21" width="24" height="1" fill="#fafafa"/>
<rect x="395" y="0" width="24" height="21" fill="url(#chk)"/>
<rect x="395" y="21" width="24" height="1" fill="#fafafa"/>
<rect x="423" y="0" width="24" height="21" fill="url(#chk)"/>
<rect x="423" y="21" width="24" height="1" fill="#fafafa"/>
<rect x="583" y="0" width="24" height="21" fill="url(#chk)"/>
<rect x="583" y="21" width="24" height="1" fill="#fafafa"/>
<rect x="1029" y="0" width="24" height="21" fill="url(#chk)"/>
<rect x="1029" y="21" width="24" height="1" fill="#fafafa"/>
<rect x="204" y="0" width="1" height="22" fill="#a0a0a0"/>
<rect x="205" y="0" width="1" height="22" fill="#fdfdfd"/>
<rect x="242" y="0" width="1" height="22" fill="#a0a0a0"/>
<rect x="243" y="0" width="1" height="22" fill="#fdfdfd"/>
<rect x="299" y="0" width="1" height="22" fill="#a0a0a0"/>
<rect x="300" y="0" width="1" height="22" fill="#fdfdfd"/>
<rect x="390" y="0" width="1" height="22" fill="#a0a0a0"/>
<rect x="391" y="0" width="1" height="22" fill="#fdfdfd"/>
<rect x="394" y="0" width="1" height="22" fill="#a0a0a0"/>
<rect x="395" y="0" width="1" height="22" fill="#fdfdfd"/>
<rect x="422" y="0" width="1" height="22" fill="#a0a0a0"/>
<rect x="423" y="0" width="1" height="22" fill="#fdfdfd"/>
<rect x="451" y="0" width="1" height="22" fill="#a0a0a0"/>
<rect x="452" y="0" width="1" height="22" fill="#fdfdfd"/>
<rect x="572" y="0" width="1" height="22" fill="#a0a0a0"/>
<rect x="573" y="0" width="1" height="22" fill="#fdfdfd"/>
<rect x="582" y="0" width="1" height="22" fill="#a0a0a0"/>
<rect x="583" y="0" width="1" height="22" fill="#fdfdfd"/>
<rect x="639" y="0" width="1" height="22" fill="#a0a0a0"/>
<rect x="640" y="0" width="1" height="22" fill="#fdfdfd"/>
<rect x="878" y="0" width="1" height="22" fill="#a0a0a0"/>
<rect x="879" y="0" width="1" height="22" fill="#fdfdfd"/>
<rect x="1028" y="0" width="1" height="22" fill="#a0a0a0"/>
<rect x="1029" y="0" width="1" height="22" fill="#fdfdfd"/>
<rect x="1139" y="0" width="1" height="22" fill="#a0a0a0"/>
<rect x="1140" y="0" width="1" height="22" fill="#fdfdfd"/>
<rect x="208" y="1" width="3" height="1" fill="#8c8c8c"/>
<rect x="208" y="3" width="3" height="1" fill="#8c8c8c"/>
<rect x="208" y="5" width="3" height="1" fill="#8c8c8c"/>
<rect x="208" y="7" width="3" height="1" fill="#8c8c8c"/>
<rect x="208" y="9" width="3" height="1" fill="#8c8c8c"/>
<rect x="208" y="11" width="3" height="1" fill="#8c8c8c"/>
<rect x="208" y="13" width="3" height="1" fill="#8c8c8c"/>
<rect x="208" y="15" width="3" height="1" fill="#8c8c8c"/>
<rect x="208" y="17" width="3" height="1" fill="#8c8c8c"/>
<rect x="208" y="19" width="3" height="1" fill="#8c8c8c"/>
<rect x="576" y="1" width="3" height="1" fill="#8c8c8c"/>
<rect x="576" y="3" width="3" height="1" fill="#8c8c8c"/>
<rect x="576" y="5" width="3" height="1" fill="#8c8c8c"/>
<rect x="576" y="7" width="3" height="1" fill="#8c8c8c"/>
<rect x="576" y="9" width="3" height="1" fill="#8c8c8c"/>
<rect x="576" y="11" width="3" height="1" fill="#8c8c8c"/>
<rect x="576" y="13" width="3" height="1" fill="#8c8c8c"/>
<rect x="576" y="15" width="3" height="1" fill="#8c8c8c"/>
<rect x="576" y="17" width="3" height="1" fill="#8c8c8c"/>
<rect x="576" y="19" width="3" height="1" fill="#8c8c8c"/>
<rect x="882" y="1" width="3" height="1" fill="#8c8c8c"/>
<rect x="882" y="3" width="3" height="1" fill="#8c8c8c"/>
<rect x="882" y="5" width="3" height="1" fill="#8c8c8c"/>
<rect x="882" y="7" width="3" height="1" fill="#8c8c8c"/>
<rect x="882" y="9" width="3" height="1" fill="#8c8c8c"/>
<rect x="882" y="11" width="3" height="1" fill="#8c8c8c"/>
<rect x="882" y="13" width="3" height="1" fill="#8c8c8c"/>
<rect x="882" y="15" width="3" height="1" fill="#8c8c8c"/>
<rect x="882" y="17" width="3" height="1" fill="#8c8c8c"/>
<rect x="882" y="19" width="3" height="1" fill="#8c8c8c"/>
<g shape-rendering="auto">
<text x="-1" y="14.3" fill="#000" style="font-size:11.3px;letter-spacing:0.6px">新订单</text>
<text x="149.6" y="14.3" fill="#000" style="font-size:11.3px;letter-spacing:0.55px">自动交易</text>
<path d="M50.5,4.3 L59.8,10.6 L60.8,13.6 L53,18.6 L45.2,13.2 L49.2,8.8 Z" fill="url(#gold)" stroke="#a3640e" stroke-width="1"/>
<path d="M46,13 L53,17.6 L60,13" fill="none" stroke="#fff2b0" stroke-width="0.8" opacity="0.8"/>
<path d="M75.5,4.5 L78,3.5 L86,3.5 L86,13 L75.5,13 Z" fill="url(#blu)" stroke="#1c6fcc" stroke-width="0.8"/>
<path d="M76.5,4.5 L79.5,7 L79.5,12" fill="none" stroke="#e8f6ff" stroke-width="0.9"/>
<rect x="80.5" y="8" width="4" height="1.2" fill="#e8f6ff"/>
<path d="M74.2,17.8 C72.6,17.6 72.8,14.4 75,14.3 C75.2,12.4 77.8,11.7 79,13 C80,10.8 83.2,10.8 84.2,13 C86.6,12.4 88.8,14.2 88.2,16.4 C88.8,17.3 88.2,18.2 87,18.2 Z" fill="url(#cld)" stroke="#3f5f95" stroke-width="0.9"/>
<circle cx="109" cy="10.7" r="7.6" fill="none" stroke="#4f7fd8" stroke-width="1" opacity="0.75"/>
<circle cx="109" cy="10.7" r="4.9" fill="none" stroke="#6f97dd" stroke-width="1" opacity="0.6"/>
<path d="M109.3,10.7 L109.3,18.4 A7.6,7.6 0 0 0 116.6,10.7 Z" fill="#b9dfb6" opacity="0.85"/>
<path d="M116.6,10.7 A7.6,7.6 0 0 1 109.3,18.4" fill="none" stroke="#3c9c48" stroke-width="1.1"/>
<circle cx="109" cy="10.3" r="2" fill="#2b5cc8"/>
<rect x="109" y="10.5" width="1.4" height="8.2" fill="#1ea21e"/>
<path d="M128.5,10 L143.5,10 L137,18.6 Z" fill="url(#fun)" stroke="#c89010" stroke-width="0.8"/>
<path d="M128.3,8.6 C128.3,6.6 131.5,6.5 132.5,6.5 C132.8,3.4 138,3.0 139.2,6 C141.5,5.6 144.6,6.3 143.6,8.4 C141,10.8 131,10.8 128.3,8.6 Z" fill="url(#hat)" stroke="#2c86b8" stroke-width="0.8"/>
<circle cx="140.3" cy="14.6" r="4.1" fill="url(#stop)"/>
<rect x="138.9" y="13.2" width="2.9" height="2.9" fill="#fff"/>
<rect x="222" y="5.800000000000001" width="1.3" height="13" fill="#555"/>
<rect x="220" y="16.3" width="12" height="1.3" fill="#555"/>
<path d="M220.7,7.0 L222.65,4.700000000000001 L224.6,7.0 Z" fill="#555"/>
<path d="M231.3,15.0 L233.6,16.95 L231.3,18.900000000000002 Z" fill="#555"/>
<path d="M226.5,13.6 L228.6,13.6 L228.6,7.2 L231,7.2" fill="none" stroke="#129a12" stroke-width="1.2"/>
<rect x="250" y="5.800000000000001" width="1.3" height="13" fill="#555"/>
<rect x="248" y="16.3" width="12" height="1.3" fill="#555"/>
<path d="M248.7,7.0 L250.65,4.700000000000001 L252.6,7.0 Z" fill="#555"/>
<path d="M259.3,15.0 L261.6,16.95 L259.3,18.900000000000002 Z" fill="#555"/>
<rect x="256" y="3.2" width="1.2" height="11.5" fill="#129a12"/>
<rect x="254.4" y="5.5" width="4.4" height="7.2" fill="#2ee04a" stroke="#129a12" stroke-width="0.9"/>
<rect x="278" y="5.800000000000001" width="1.3" height="13" fill="#555"/>
<rect x="276" y="16.3" width="12" height="1.3" fill="#555"/>
<path d="M276.7,7.0 L278.65,4.700000000000001 L280.6,7.0 Z" fill="#555"/>
<path d="M287.3,15.0 L289.6,16.95 L287.3,18.900000000000002 Z" fill="#555"/>
<path d="M277.5,13.5 C280,11 282.5,7 284.5,8.5 C286,9.6 287.2,11 288.5,11.5" fill="none" stroke="#37a837" stroke-width="1.1"/>
<path d="M317.0,12.3 L322.8,17.7" stroke="#c89a10" stroke-width="2.8" stroke-linecap="butt"/>
<path d="M317.0,12.3 L322.8,17.7" stroke="#f2dc6a" stroke-width="1.3"/>
<circle cx="313.8" cy="9.1" r="5.2" fill="url(#lens)" stroke="#3c7cc4" stroke-width="1.2"/>
<rect x="310.8" y="8.4" width="6" height="1.5" fill="#3d7fb8"/>
<rect x="313.05" y="6.1" width="1.5" height="6" fill="#3d7fb8"/>
<path d="M345.2,12.3 L351,17.7" stroke="#c89a10" stroke-width="2.8" stroke-linecap="butt"/>
<path d="M345.2,12.3 L351,17.7" stroke="#f2dc6a" stroke-width="1.3"/>
<circle cx="342" cy="9.1" r="5.2" fill="url(#lens)" stroke="#3c7cc4" stroke-width="1.2"/>
<rect x="339" y="8.4" width="6" height="1.5" fill="#3d7fb8"/>
<rect x="364" y="3" width="7.8" height="7.8" fill="#2f9a22"/>
<rect x="365" y="6" width="5.8" height="3.6" fill="#ffffff"/>
<rect x="365.6" y="7.4" width="4.6" height="0.8" fill="#9fe08f"/>
<rect x="372.3" y="3" width="7.8" height="7.8" fill="#1d52c8"/>
<rect x="373.3" y="6" width="5.8" height="3.6" fill="#ffffff"/>
<rect x="373.90000000000003" y="7.4" width="4.6" height="0.8" fill="#a6b8ee"/>
<rect x="364" y="11" width="7.8" height="7.8" fill="#1d52c8"/>
<rect x="365" y="14" width="5.8" height="3.6" fill="#ffffff"/>
<rect x="365.6" y="15.4" width="4.6" height="0.8" fill="#a6b8ee"/>
<rect x="372.3" y="11" width="7.8" height="7.8" fill="#2f9a22"/>
<rect x="373.3" y="14" width="5.8" height="3.6" fill="#ffffff"/>
<rect x="373.90000000000003" y="15.4" width="4.6" height="0.8" fill="#9fe08f"/>
<rect x="402" y="5.800000000000001" width="1.3" height="13" fill="#555"/>
<rect x="400" y="16.3" width="12" height="1.3" fill="#555"/>
<path d="M400.7,7.0 L402.65,4.700000000000001 L404.6,7.0 Z" fill="#555"/>
<path d="M411.3,15.0 L413.6,16.95 L411.3,18.900000000000002 Z" fill="#555"/>
<path d="M407,6.2 L411.2,10.2 L407,14.2 Z" fill="#1fb21f" stroke="#0c8a0c" stroke-width="0.6"/>
<rect x="430" y="5.800000000000001" width="1.3" height="13" fill="#555"/>
<rect x="428" y="16.3" width="12" height="1.3" fill="#555"/>
<path d="M428.7,7.0 L430.65,4.700000000000001 L432.6,7.0 Z" fill="#555"/>
<path d="M439.3,15.0 L441.6,16.95 L439.3,18.900000000000002 Z" fill="#555"/>
<rect x="436" y="5" width="1.2" height="10" fill="#2b6aa8"/>
<path d="M437.5,10.5 L440.5,8.3 L440.5,9.8 L442.2,9.8 L442.2,11.2 L440.5,11.2 L440.5,12.7 Z" fill="#e0530e"/>
<path d="M461.5,4 L467.5,4 L470,6.5 L470,16.5 L461.5,16.5 Z" fill="#f6f6f6" stroke="#8a8a8a" stroke-width="0.9"/>
<path d="M465.4,7 C463.8,7 464.2,9.5 464.2,12 C464.2,14 465.6,14.5 465.6,14.5" fill="none" stroke="#444" stroke-width="0.9"/>
<path d="M465.6,13.2 h3.8 v-3.8 h3.4 v3.8 h3.8 v3.4 h-3.8 v3.8 h-3.4 v-3.8 h-3.8 Z" fill="#2bd42b" stroke="#129412" stroke-width="0.8"/>
<path d="M482.8,10.2 L488.2,10.2 L485.5,13.2 Z" fill="#000"/>
<path d="M522,10.2 L527.4,10.2 L524.7,13.2 Z" fill="#000"/>
<path d="M560.8,10.2 L566.1999999999999,10.2 L563.5,13.2 Z" fill="#000"/>
<path d="M866.8,10.2 L872.1999999999999,10.2 L869.5,13.2 Z" fill="#000"/>
<circle cx="507.1" cy="10.9" r="6.8" fill="url(#clk)" stroke="#1a6fd0" stroke-width="2.5"/>
<circle cx="507.1" cy="10.9" r="7.9" fill="none" stroke="#0d4fa8" stroke-width="0.4"/>
<path d="M506.6,7.2 L506.6,11.2 L509.5,12.4" fill="none" stroke="#333" stroke-width="1"/>
<circle cx="507.1" cy="15.5" r="0.7" fill="#6aa6e6"/>
<rect x="538.5" y="4.3" width="15" height="13.2" fill="#ffffff" stroke="#3f76c4" stroke-width="1"/>
<rect x="538.5" y="4.3" width="15" height="2.3" fill="#5f9ae0"/>
<rect x="539" y="11.2" width="14" height="1" fill="#3f76c4"/>
<path d="M540,10 L542,9.4 L544,8.6 L546,9.5 L548,8.8 L550,8.4 L552,8.2" fill="none" stroke="#a83222" stroke-width="0.9"/>
<path d="M540.5,15.6 L542.5,15 L544.5,15.5 L546.5,14.4 L548.5,13.2 L550.5,15.3 L552,15.8" fill="none" stroke="#22a028" stroke-width="0.9"/>
<path d="M590,4 L598.2,11.2 L594.8,11.6 L596.6,16.6 L595,17.4 L593.3,12.6 L590,15 Z" fill="#555"/>
<rect x="622" y="4" width="1.2" height="15" fill="#555"/><rect x="615" y="10.7" width="15" height="1.2" fill="#555"/>
<rect x="621.5" y="10" width="2.2" height="2.6" fill="#f0f0f0"/><rect x="622.2" y="10.9" width="0.9" height="0.9" fill="#555"/>
<rect x="656" y="5" width="1.3" height="13" fill="#555"/>
<rect x="679.2" y="10.6" width="11.7" height="1.3" fill="#555"/>
<path d="M707,17.8 L719,5.8" stroke="#555" stroke-width="1.3"/>
<path d="M733.1,12.4 L740.5,5.2 M738.1,17.6 L746.9,9.3" stroke="#555" stroke-width="1" stroke-dasharray="1.2,0.8" fill="none"/>
<path d="M735.6,10.2 L735.3,17.6 M738.5,9.2 L738.7,14.4 M741.7,7.0 L741.4,13.3 M744.6,3.0 L745.2,10.2" stroke="#333" stroke-width="1.2" fill="none"/>
<path d="M734,16.2 L736.6,18 M734.3,13.2 L736.8,14.6 M737.3,12.3 L739.6,13.9 M740.4,10.6 L742.6,12.2 M743.5,8.3 L746.6,10 M744,5 L746.5,6.2" stroke="#333" stroke-width="0.9" fill="none"/>
<text x="743.8" y="19.9" style="font-size:6.8px;font-weight:bold" fill="#333">E</text>
<rect x="762" y="3.7" width="1" height="1" fill="#555"/>
<rect x="764" y="3.7" width="1" height="1" fill="#555"/>
<rect x="766" y="3.7" width="1" height="1" fill="#555"/>
<rect x="768" y="3.7" width="1" height="1" fill="#555"/>
<rect x="770" y="3.7" width="1" height="1" fill="#555"/>
<rect x="772" y="3.7" width="1" height="1" fill="#555"/>
<rect x="774" y="3.7" width="1" height="1" fill="#555"/>
<rect x="762" y="6.9" width="1" height="1" fill="#555"/>
<rect x="764" y="6.9" width="1" height="1" fill="#555"/>
<rect x="766" y="6.9" width="1" height="1" fill="#555"/>
<rect x="768" y="6.9" width="1" height="1" fill="#555"/>
<rect x="770" y="6.9" width="1" height="1" fill="#555"/>
<rect x="772" y="6.9" width="1" height="1" fill="#555"/>
<rect x="774" y="6.9" width="1" height="1" fill="#555"/>
<rect x="762" y="10.9" width="1" height="1" fill="#555"/>
<rect x="764" y="10.9" width="1" height="1" fill="#555"/>
<rect x="766" y="10.9" width="1" height="1" fill="#555"/>
<rect x="768" y="10.9" width="1" height="1" fill="#555"/>
<rect x="770" y="10.9" width="1" height="1" fill="#555"/>
<rect x="772" y="10.9" width="1" height="1" fill="#555"/>
<rect x="774" y="10.9" width="1" height="1" fill="#555"/>
<rect x="762" y="15.0" width="1" height="1" fill="#555"/>
<rect x="764" y="15.0" width="1" height="1" fill="#555"/>
<rect x="766" y="15.0" width="1" height="1" fill="#555"/>
<rect x="768" y="15.0" width="1" height="1" fill="#555"/>
<rect x="770" y="15.0" width="1" height="1" fill="#555"/>
<text x="771.3" y="20" style="font-size:6.5px;font-weight:bold" fill="#333">F</text>
<text x="792.6" y="16.2" style="font-size:11.5px;font-weight:bold" fill="#555">A</text>
<rect x="819" y="4.7" width="0.9" height="0.9" fill="#444"/><rect x="819" y="17" width="0.9" height="0.9" fill="#444"/>
<rect x="821" y="4.7" width="0.9" height="0.9" fill="#444"/><rect x="821" y="17" width="0.9" height="0.9" fill="#444"/>
<rect x="823" y="4.7" width="0.9" height="0.9" fill="#444"/><rect x="823" y="17" width="0.9" height="0.9" fill="#444"/>
<rect x="825" y="4.7" width="0.9" height="0.9" fill="#444"/><rect x="825" y="17" width="0.9" height="0.9" fill="#444"/>
<rect x="827" y="4.7" width="0.9" height="0.9" fill="#444"/><rect x="827" y="17" width="0.9" height="0.9" fill="#444"/>
<rect x="829" y="4.7" width="0.9" height="0.9" fill="#444"/><rect x="829" y="17" width="0.9" height="0.9" fill="#444"/>
<rect x="831" y="4.7" width="0.9" height="0.9" fill="#444"/><rect x="831" y="17" width="0.9" height="0.9" fill="#444"/>
<rect x="819" y="4.7" width="1" height="1" fill="#444"/><rect x="830" y="4.7" width="1" height="1" fill="#444"/>
<rect x="819" y="6.7" width="1" height="1" fill="#444"/><rect x="830" y="6.7" width="1" height="1" fill="#444"/>
<rect x="819" y="8.7" width="1" height="1" fill="#444"/><rect x="830" y="8.7" width="1" height="1" fill="#444"/>
<rect x="819" y="10.7" width="1" height="1" fill="#444"/><rect x="830" y="10.7" width="1" height="1" fill="#444"/>
<rect x="819" y="12.7" width="1" height="1" fill="#444"/><rect x="830" y="12.7" width="1" height="1" fill="#444"/>
<rect x="819" y="14.7" width="1" height="1" fill="#444"/><rect x="830" y="14.7" width="1" height="1" fill="#444"/>
<rect x="819" y="16.7" width="1" height="1" fill="#444"/><rect x="830" y="16.7" width="1" height="1" fill="#444"/>
<text x="821.4" y="15.6" style="font-size:11px;font-weight:bold" fill="#555">T</text>
<path d="M849.5,4.8 L853,8.7 L850.9,8.7 L850.9,9.8 L848.1,9.8 L848.1,8.7 L846,8.7 Z" fill="#4a4a4a"/>
<path d="M855.3,13.2 L857.8,13.2 L857.8,14.4 L860,14.4 L856.5,18 L853,14.4 L855.3,14.4 Z" fill="#4a4a4a"/>
<path d="M848.2,12.3 L850.4,14.5 L854.7,9.3" fill="none" stroke="#4a4a4a" stroke-width="1.5"/>
<text x="893.3" y="15.3" style="font-size:10px" fill="#333">M1</text>
<text x="921.3" y="15.3" style="font-size:10px" fill="#333">M5</text>
<text x="947.5" y="15.3" style="font-size:10px" fill="#333">M15</text>
<text x="975.4" y="15.3" style="font-size:10px" fill="#333">M30</text>
<text x="1006.3" y="15.3" style="font-size:10px" fill="#333">H1</text>
<text x="1033.5" y="15.3" style="font-size:10px" fill="#333">H4</text>
<text x="1062.7" y="15.3" style="font-size:10px" fill="#333">D1</text>
<text x="1089.6" y="15.3" style="font-size:10px" fill="#333">W1</text>
<text x="1116.4" y="15.3" style="font-size:10px" fill="#333">MN</text>
<circle cx="1609.6" cy="8.4" r="3.9" fill="#f6f8ff" stroke="#2a62d0" stroke-width="1.3"/>
<path d="M1606.8,11.4 L1602.4,15.8" stroke="#2a62d0" stroke-width="2.2" stroke-linecap="round"/>
<path d="M1631.5,8.5 C1627,8.5 1626,11 1626,13.5 C1626,16 1628,17.2 1630,17.2 L1629.6,19.4 L1632.2,17.4 L1637,17.4 Z" fill="#e6e6ee" stroke="#aaaaaa" stroke-width="0.8"/>
<circle cx="1640.6" cy="8.3" r="8.2" fill="url(#badge)"/>
<text x="1636.4" y="13" style="font-size:12px;font-weight:bold;font-family:'Liberation Serif',serif" fill="#fff">1</text>
</g>
</svg>
</body></html>
